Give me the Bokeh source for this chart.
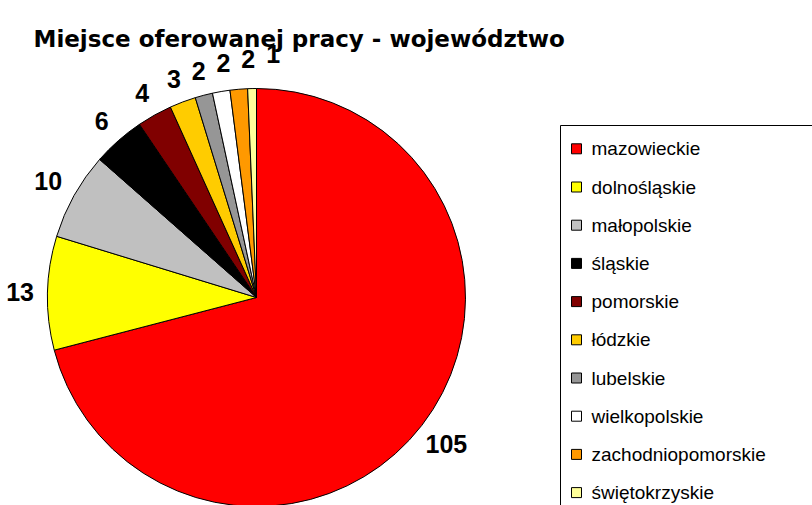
import math
from bokeh.plotting import figure
from bokeh.models import Range1d, ColumnDataSource
from bokeh.core.properties import value
from bokeh.embed import file_html
from bokeh.resources import INLINE

# ---- data ----
regions = ["mazowieckie", "dolnośląskie", "małopolskie", "śląskie", "pomorskie",
           "łódzkie", "lubelskie", "wielkopolskie", "zachodniopomorskie", "świętokrzyskie"]
counts = [105, 13, 10, 6, 4, 3, 2, 2, 2, 1]
colors = ["#FF0000", "#FFFF00", "#C0C0C0", "#000000", "#800000",
          "#FFCC00", "#969696", "#FFFFFF", "#FF9900", "#FFFF99"]
title_text = "Miejsce oferowanej pracy - województwo"

W, H = 812, 505
p = figure(width=W, height=H, output_backend="svg", toolbar_location=None,
           x_range=Range1d(0, W), y_range=Range1d(0, H), min_border=0)
p.axis.visible = False
p.grid.visible = False
p.outline_line_color = None
p.background_fill_color = "white"

# pie geometry (screen px == data units)
cx, cy, R = 256, 208, 209
total = sum(counts)
starts, ends, mids = [], [], []
acc = 0.0
for c in counts:
    a0 = acc / total * 2 * math.pi
    acc += c
    a1 = acc / total * 2 * math.pi
    starts.append(math.pi / 2 - a0)
    ends.append(math.pi / 2 - a1)
    mids.append(math.pi / 2 - (a0 + a1) / 2)

src = ColumnDataSource(dict(start=starts, end=ends, color=colors, region=regions, count=counts))
p.wedge(x=cx, y=cy, radius=R, start_angle="start", end_angle="end", direction="clock",
        fill_color="color", line_color="black", line_width=1, source=src)

# data labels: box placed outside the pie; a label that would touch the previous
# one is moved on clockwise (and a little outward) until it is clear
fs = 25
gap, sep = 13, 8
lx, ly, boxes = [], [], []
for c, m in zip(counts, mids):
    w = 0.5 * fs * len(str(c)) + 4
    h = 0.72 * fs + 4
    ca, sa = abs(math.cos(m)), abs(math.sin(m))
    ext = min((w / 2) / ca if ca > 1e-6 else 1e9, (h / 2) / sa if sa > 1e-6 else 1e9)
    r = R + gap + ext
    a = m
    while True:
        x = cx + r * math.cos(a)
        y = cy + r * math.sin(a)
        ok = all(abs(x - bx) > (w + bw) / 2 + sep or abs(y - by) > (h + bh) / 2
                 for bx, by, bw, bh in boxes)
        if ok:
            break
        a -= 0.005
        r += 0.6
    boxes.append((x, y, w, h))
    lx.append(x)
    ly.append(y)
lsrc = ColumnDataSource(dict(x=lx, y=ly, t=[str(c) for c in counts]))
p.text(x="x", y="y", text="t", source=lsrc, text_font=value("Liberation Sans"),
       text_font_style="bold", text_font_size=f"{fs}px", text_align="center",
       text_baseline="middle", text_color="black")

# title
p.text(x=[33], y=[467], text=[title_text], text_font=value("DejaVu Sans"),
       text_font_style="bold", text_font_size="23px", text_align="left",
       text_baseline="alphabetic", text_color="black")

# legend box
p.quad(left=[560], right=[W + 10], top=[380], bottom=[-10],
       fill_color="white", line_color="black", line_width=1)
row_top, row_step = 356.7, 38.2
ry = [row_top - i * row_step for i in range(len(regions))]
gsrc = ColumnDataSource(dict(y=ry, color=colors, region=regions))
p.rect(x=576, y="y", width=10, height=10, fill_color="color", line_color="black",
       line_width=1, source=gsrc)
p.text(x=591, y="y", text="region", source=gsrc, text_font=value("Liberation Sans"),
       text_font_size="19px", text_align="left", text_baseline="middle",
       text_color="black")

open("out.html", "w").write(file_html(p, INLINE))
